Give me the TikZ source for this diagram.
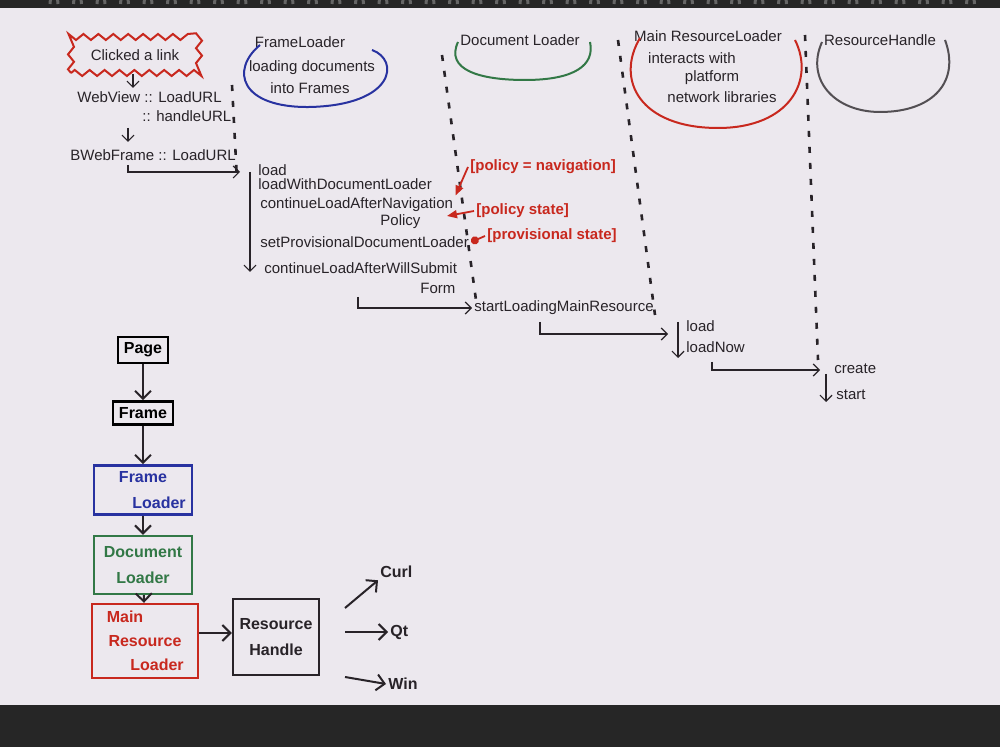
\documentclass[tikz,border=0pt]{standalone}
\usepackage{fontspec}
\setmainfont{Liberation Sans}
\usetikzlibrary{decorations.pathmorphing,arrows.meta}
\definecolor{paper}{RGB}{236,232,238}
\definecolor{pblue}{RGB}{40,50,160}
\definecolor{pgreen}{RGB}{50,120,70}
\definecolor{pred}{RGB}{200,40,30}
\definecolor{ink}{RGB}{40,35,40}
\begin{document}
\begin{tikzpicture}[x=0.5pt,y=-0.5pt,font=\fontsize{7.5}{9}\selectfont,
  txt/.style={anchor=west,inner sep=1pt,text=ink},
  rtxt/.style={anchor=west,inner sep=1pt,text=pred,font=\fontsize{7.5}{9}\selectfont\bfseries},
  life/.style={ink,line width=1.3pt,dash pattern=on 3pt off 5pt},
  call/.style={ink,line width=0.6pt,-{Straight Barb[length=3pt]}},
  rarr/.style={pred,line width=0.9pt,-{Triangle[length=5pt,width=4pt]}},
  box/.style={draw,line width=1.2pt,align=center,inner sep=3pt,font=\fontsize{8}{13}\selectfont\bfseries},
  ttl/.style={inner sep=1pt,text=ink}]
\useasboundingbox (0,0) rectangle (1000,747);
\fill[paper] (0,0) rectangle (1000,747);
\fill[black!85] (0,705) rectangle (1000,747);
\fill[black!85] (0,0) rectangle (1000,8);
\foreach \i in {0,...,39} \draw[black!60,line width=1.5pt] (50+\i*23.5,4) arc (180:360:4 and 9);
% top: clicked
\node[draw=pred,line width=1pt,decorate,decoration={zigzag,amplitude=1.5pt,segment length=7.4545pt},minimum width=64pt,minimum height=18pt,text=ink] (click) at (135,55) {Clicked a link};
\node[txt] (wv) at (75,97) {WebView :: LoadURL};
\node[txt] (hu) at (140,116) {:: handleURL};
\node[txt] (bw) at (68,155) {BWebFrame :: LoadURL};
\draw[call] (click.south -| 133,0) -- (133,88);
\draw[call] (128,128) -- (128,142);
\coordinate (c1) at (128,165);
\coordinate (c2) at (240,172);
\draw[call] (c1) |- (c2);
% lifeline headers
\node[ttl] (flt) at (300,42) {FrameLoader};
\draw[pblue,line width=1pt] (372,50) .. controls (400,60) and (395,105) .. (310,107) .. controls (240,108) and (230,70) .. (260,45);
\node[ttl] (fl1) at (312,68) {loading documents};
\node[ttl] (fl2) at (310,88) {into Frames};
\node[ttl] (dlt) at (520,40) {Document Loader};
\draw[pgreen,line width=1pt] (458,42) .. controls (445,70) and (480,80) .. (525,80) .. controls (575,80) and (595,65) .. (590,42);
\node[ttl] (mrt) at (708,36) {Main ResourceLoader};
\draw[pred,line width=1pt] (640,38) .. controls (615,80) and (640,128) .. (718,128) .. controls (790,128) and (815,80) .. (795,40);
\node[ttl] (mr1) at (692,58) {interacts with};
\node[ttl] (mr2) at (712,78) {platform};
\node[ttl] (mr3) at (722,97) {network libraries};
\node[ttl] (rht) at (880,40) {ResourceHandle};
\draw[ink!80,line width=1pt] (822,42) .. controls (805,80) and (835,112) .. (880,112) .. controls (935,112) and (960,80) .. (945,40);
% lifelines
\draw[life] (232,85) -- (237,180);
\draw[life] (442,55) -- (476,300);
\draw[life] (618,40) -- (655,315);
\draw[life] (805,35) -- (818,360);
% FrameLoader calls
\node[txt] (f1) at (256,170) {load};
\node[txt] (f2) at (256,184) {loadWithDocumentLoader};
\node[txt] (f3) at (258,205) {continueLoadAfterNavigation};
\node[txt] (f4) at (378,222) {Policy};
\node[txt] (f5) at (258,242) {setProvisionalDocumentLoader};
\node[txt] (f6) at (262,268) {continueLoadAfterWillSubmit};
\node[txt] (f7) at (418,288) {Form};
\coordinate (v1) at (250,172);
\coordinate (v2) at (250,272);
\draw[call] (v1) -- (v2);
% red annotations
\node[rtxt] (r1) at (468,167) {[policy = navigation]};
\node[rtxt] (r2) at (474,211) {[policy state]};
\node[rtxt] (r3) at (485,236) {[provisional state]};
\draw[rarr] (r1.west) -- (f3.north east);
\draw[rarr] (r2.west) -- (447,216);
\draw[pred,line width=0.9pt,-{Circle[length=4pt]}] (r3.west) -- (f5.east);
% startLoading
\node[txt] (sl) at (472,308) {startLoadingMainResource};
\coordinate (s1) at (358,297);
\draw[call] (s1) |- (sl.west);
\node[txt] (ld) at (684,326) {load};
\node[txt] (ldn) at (684,347) {loadNow};
\coordinate (s2) at (540,322);
\coordinate (s3) at (668,334);
\draw[call] (s2) |- (s3);
\draw[call] (678,322) -- (678,358);
\node[txt] (cr) at (832,369) {create};
\node[txt] (st) at (834,395) {start};
\coordinate (s4) at (712,362);
\coordinate (s5) at (820,370);
\draw[call] (s4) |- (s5);
\draw[call] (826,374) -- (826,402);
% stack
\node[box,draw=black,text=black] (pg) at (143,350) {Page};
\node[box,draw=black,text=black] (fr) at (143,413) {Frame};
\node[box,draw=pblue,text=pblue,minimum width=49pt,minimum height=24pt] (fl) at (143,490) {Frame\\\hspace*{2em}Loader};
\node[box,draw=pgreen,text=pgreen,minimum width=49pt,minimum height=29pt] (dl) at (143,565) {Document\\Loader};
\node[box,draw=pred,text=pred,minimum width=53pt,minimum height=37pt,font=\fontsize{8}{12}\selectfont\bfseries] (mr) at (145,641) {Main\hspace*{2.5em}\\Resource\\\hspace*{1.5em}Loader};
\node[box,draw=ink,text=ink,minimum width=43pt,minimum height=38pt] (rh) at (276,637) {Resource\\Handle};
\tikzset{sarr/.style={ink,line width=1pt,-{Straight Barb[length=4pt]}}}
\draw[sarr] (pg) -- (fr);
\draw[sarr] (fr) -- (fl);
\draw[sarr] (fl) -- (dl);
\draw[sarr] (dl) -- (mr);
\draw[sarr] (mr.east |- 0,633) -- (rh.west |- 0,633);
\node[txt,font=\fontsize{8}{9}\selectfont\bfseries] (curl) at (378,572) {Curl};
\node[txt,font=\fontsize{8}{9}\selectfont\bfseries] (qt) at (388,632) {Qt};
\node[txt,font=\fontsize{8}{9}\selectfont\bfseries] (win) at (386,684) {Win};
\draw[sarr] (345,608) -- (curl.south west);
\draw[sarr] (345,632) -- (qt.west);
\draw[sarr] (345,677) -- (win.west);
\end{tikzpicture}
\end{document}
